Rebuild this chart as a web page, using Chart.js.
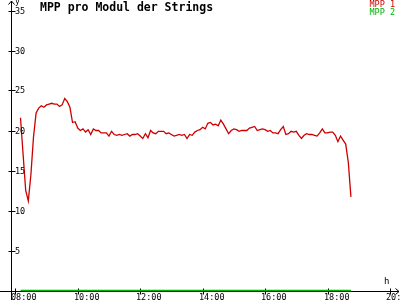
<!DOCTYPE html>
<html>
<head>
<meta charset="utf-8">
<script src="https://cdn.jsdelivr.net/npm/chart.js@4"></script>
<style>
  html, body { margin: 0; padding: 0; background: #fff; }
  #chart { display: block; }
</style>
</head>
<body>
<canvas id="chart" width="400" height="300"></canvas>
<script>
// sample times (5 min steps)
const times = [
  '08:10','08:15','08:20','08:25','08:30','08:35','08:40','08:45','08:50','08:55',
  '09:00','09:05','09:10','09:15','09:20','09:25','09:30','09:35','09:40','09:45','09:50','09:55',
  '10:00','10:05','10:10','10:15','10:20','10:25','10:30','10:35','10:40','10:45','10:50','10:55',
  '11:00','11:05','11:10','11:15','11:20','11:25','11:30','11:35','11:40','11:45','11:50','11:55',
  '12:00','12:05','12:10','12:15','12:20','12:25','12:30','12:35','12:40','12:45','12:50','12:55',
  '13:00','13:05','13:10','13:15','13:20','13:25','13:30','13:35','13:40','13:45','13:50','13:55',
  '14:00','14:05','14:10','14:15','14:20','14:25','14:30','14:35','14:40','14:45','14:50','14:55',
  '15:00','15:05','15:10','15:15','15:20','15:25','15:30','15:35','15:40','15:45','15:50','15:55',
  '16:00','16:05','16:10','16:15','16:20','16:25','16:30','16:35','16:40','16:45','16:50','16:55',
  '17:00','17:05','17:10','17:15','17:20','17:25','17:30','17:35','17:40','17:45','17:50','17:55',
  '18:00','18:05','18:10','18:15','18:20','18:25','18:30','18:35','18:40','18:45'
];

const mpp1 = [
  21.6, 17.0, 12.5, 11.2, 14.5, 19.2, 22.2, 22.8, 23.1, 22.9,
  23.2, 23.3, 23.4, 23.3, 23.3, 23.0, 23.2, 24.0, 23.6, 22.9, 21.0, 21.1,
  20.3, 20.0, 20.2, 19.8, 20.1, 19.5, 20.2, 20.0, 20.0, 19.7, 19.7, 19.7,
  19.3, 19.9, 19.5, 19.4, 19.5, 19.4, 19.5, 19.6, 19.3, 19.5, 19.5, 19.6,
  19.3, 19.0, 19.6, 19.1, 20.0, 19.7, 19.6, 19.9, 19.9, 19.9, 19.6, 19.7,
  19.5, 19.3, 19.4, 19.5, 19.4, 19.5, 19.0, 19.5, 19.4, 19.8, 20.0, 20.1,
  20.4, 20.2, 20.9, 21.0, 20.7, 20.8, 20.6, 21.3, 20.8, 20.2, 19.6, 20.0,
  20.2, 20.1, 19.9, 20.0, 20.0, 20.0, 20.3, 20.4, 20.5, 20.0, 20.1, 20.2,
  20.1, 19.9, 20.0, 19.7, 19.7, 19.6, 20.1, 20.5, 19.5, 19.6, 19.9, 19.8,
  19.9, 19.4, 19.0, 19.4, 19.6, 19.5, 19.5, 19.4, 19.3, 19.7, 20.2, 19.7,
  19.7, 19.8, 19.8, 19.4, 18.6, 19.3, 18.8, 18.3, 16.0, 11.7
];

const mpp2 = [
  0, 0, 0, 0, 0, 0, 0, 0, 0, 0,
  0, 0, 0, 0, 0, 0, 0, 0, 0, 0, 0, 0,
  0, 0, 0, 0, 0, 0, 0, 0, 0, 0, 0, 0,
  0, 0, 0, 0, 0, 0, 0, 0, 0, 0, 0, 0,
  0, 0, 0, 0, 0, 0, 0, 0, 0, 0, 0, 0,
  0, 0, 0, 0, 0, 0, 0, 0, 0, 0, 0, 0,
  0, 0, 0, 0, 0, 0, 0, 0, 0, 0, 0, 0,
  0, 0, 0, 0, 0, 0, 0, 0, 0, 0, 0, 0,
  0, 0, 0, 0, 0, 0, 0, 0, 0, 0, 0, 0,
  0, 0, 0, 0, 0, 0, 0, 0, 0, 0, 0, 0,
  0, 0, 0, 0, 0, 0, 0, 0, 0, 0
];

const hourTicks = [8, 10, 12, 14, 16, 18, 20];
const hourLabels = ['08:00', '10:00', '12:00', '14:00', '16:00', '18:00', '20:00'];
const voltTicks = [5, 10, 15, 20, 25, 30, 35];
const seriesNames = ['MPP 1', 'MPP 2'];
const seriesColors = ['#cc0000', '#00b400'];

const FONT = '"DejaVu Sans Mono", "Liberation Mono", monospace';

// "HH:MM" -> decimal hours
const toHours = (s) => {
  const [h, m] = s.split(':');
  return parseInt(h) + parseInt(m) / 60;
};

// axes with arrows, crossing tick marks, labels, title and legend
const axesPlugin = {
  id: 'axes',
  beforeDatasetsDraw(chart) {
    const { ctx, scales: { x, y } } = chart;
    const x0 = Math.round(x.getPixelForValue(7.85)) + 0.5;
    const y0 = Math.round(y.getPixelForValue(0)) + 0.5;
    ctx.save();
    ctx.strokeStyle = '#000';
    ctx.lineWidth = 1;
    ctx.beginPath();
    ctx.moveTo(x0, 300); ctx.lineTo(x0, 1);
    ctx.moveTo(0, y0); ctx.lineTo(399, y0);
    ctx.moveTo(x0 - 3, 4.5); ctx.lineTo(x0, 1); ctx.lineTo(x0 + 3, 4.5);
    ctx.moveTo(395.5, y0 - 3); ctx.lineTo(399, y0); ctx.lineTo(395.5, y0 + 3);
    voltTicks.forEach(v => {
      const py = Math.round(y.getPixelForValue(v)) + 0.5;
      ctx.moveTo(x0 - 3, py); ctx.lineTo(x0 + 4, py);
    });
    hourTicks.forEach(h => {
      const px = Math.round(x.getPixelForValue(h)) + 0.5;
      ctx.moveTo(px, y0 - 3); ctx.lineTo(px, y0 + 3);
    });
    ctx.stroke();
    ctx.restore();
  },
  afterDraw(chart) {
    const { ctx, scales: { x, y } } = chart;
    const x0 = Math.round(x.getPixelForValue(7.85));
    const y0 = Math.round(y.getPixelForValue(0));
    ctx.save();
    ctx.fillStyle = '#000';
    ctx.font = '8.5px ' + FONT;
    ctx.textAlign = 'left';
    ctx.textBaseline = 'middle';
    voltTicks.forEach(v => {
      ctx.fillText(String(v), x0 + 4, Math.round(y.getPixelForValue(v)) + 1);
    });
    ctx.textBaseline = 'top';
    hourTicks.forEach((h, i) => {
      ctx.fillText(hourLabels[i], Math.round(x.getPixelForValue(h)) - 4, y0 + 3);
    });
    // axis names
    ctx.font = '8px ' + FONT;
    ctx.fillText('y', x0 + 4, -2);
    ctx.font = '9px ' + FONT;
    ctx.fillText('h', 384, y0 - 14);
    // title
    ctx.font = 'bold 11.5px ' + FONT;
    ctx.fillText('MPP pro Modul der Strings', 40, 2);
    // legend
    ctx.font = '8.5px ' + FONT;
    ctx.textAlign = 'right';
    seriesNames.forEach((name, i) => {
      ctx.fillStyle = seriesColors[i];
      ctx.fillText(name, 395, 1 + i * 8);
    });
    ctx.restore();
  }
};

const toPoints = (vals) => vals.map((v, i) => ({ x: toHours(times[i]), y: v }));

new Chart(document.getElementById('chart'), {
  type: 'line',
  data: {
    datasets: [
      {
        label: seriesNames[1],
        data: toPoints(mpp2),
        borderColor: seriesColors[1],
        borderWidth: 1.6,
        pointRadius: 0,
        tension: 0,
      },
      {
        label: seriesNames[0],
        data: toPoints(mpp1),
        borderColor: seriesColors[0],
        borderWidth: 1.3,
        pointRadius: 0,
        tension: 0,
      },
    ],
  },
  options: {
    responsive: false,
    animation: false,
    layout: { padding: 0 },
    plugins: { legend: { display: false }, tooltip: { enabled: false } },
    scales: {
      x: { type: 'linear', display: false, min: 7.51, max: 20.322 },
      y: { type: 'linear', display: false, min: -1.1875, max: 36.3125 },
    },
  },
  plugins: [axesPlugin],
});
</script>
</body>
</html>
